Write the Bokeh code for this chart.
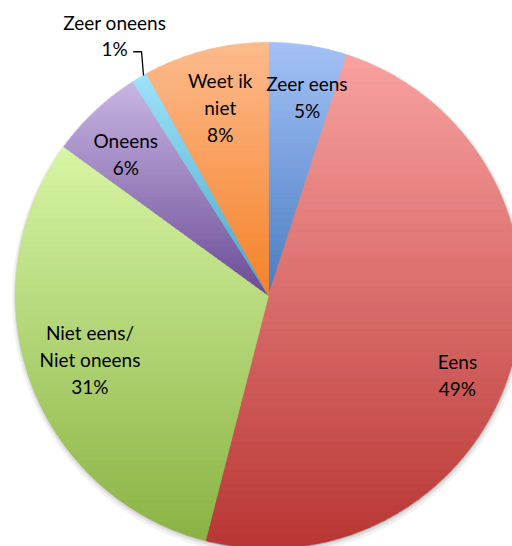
import numpy as np
from bokeh.plotting import figure
from bokeh.models import Range1d
from bokeh.embed import file_html
from bokeh.resources import INLINE
from bokeh.core.properties import value

# ---- data ----
labels = ["Zeer eens", "Eens", "Niet eens/\nNiet oneens", "Oneens", "Zeer oneens", "Weet ik\nniet"]
percents = [5, 49, 31, 6, 1, 8]
top_colors = ["#a4c2f8", "#f9a2a0", "#d8f5a6", "#c8b6e4", "#a0e2fb", "#fdbb8d"]
bottom_colors = ["#4a7cc0", "#b83634", "#8ab343", "#6c4c96", "#46a9c7", "#f58228"]

# ---- layout ----
W, H = 512, 546
R = 253.0
CX, CY = 268.0, 295.0
label_r = [0.80, 0.81, 0.75, 0.795, 1.194, 0.767]
label_da = [-2.0, -6.6, 0.0, 2.0, 0.0, 0.0]
FONT = "Lato"
FSIZE = 19
LINE_H = 1.17
SPACING = 26.5

p = figure(width=W, height=H, output_backend="svg", toolbar_location=None,
           x_range=Range1d(-CX, W - CX), y_range=Range1d(-(H - CY), CY),
           min_border=0)
p.axis.visible = False
p.grid.visible = False
p.outline_line_color = None
p.background_fill_color = "white"


def hex2rgb(h):
    h = h.lstrip("#")
    return np.array([int(h[i:i + 2], 16) for i in (0, 2, 4)], dtype=float)


def rgb2hex(c):
    c = np.clip(np.round(c), 0, 255).astype(int)
    return "#%02x%02x%02x" % tuple(c)


def clip(poly, y0, keep_above):
    out = []
    n = len(poly)
    for i in range(n):
        a = poly[i]
        b = poly[(i + 1) % n]
        ina = (a[1] >= y0) if keep_above else (a[1] <= y0)
        inb = (b[1] >= y0) if keep_above else (b[1] <= y0)
        if ina:
            out.append(a)
        if ina != inb:
            t = (y0 - a[1]) / (b[1] - a[1])
            out.append((a[0] + t * (b[0] - a[0]), y0))
    return out


# soft shadow
for rr, al, off in [(R + 4, 0.05, 3), (R + 2, 0.08, 2), (R + 0.5, 0.12, 1)]:
    p.circle(x=[0.5], y=[-off], radius=rr, fill_color="#000000", fill_alpha=al, line_color=None)

xs, ys, cols = [], [], []
cum = 0.0
mids = []
for pct, tc, bc in zip(percents, top_colors, bottom_colors):
    a0 = 90.0 - 3.6 * cum
    a1 = a0 - 3.6 * pct
    cum += pct
    mids.append((a0 + a1) / 2)
    n = max(6, int(abs(a1 - a0) * 2))
    ang = np.radians(np.linspace(a0, a1, n))
    poly = [(0.0, 0.0)] + [(R * np.cos(t), R * np.sin(t)) for t in ang]
    ymax = max(pt[1] for pt in poly)
    ymin = max(min(pt[1] for pt in poly), -R)
    nb = 70
    edges = np.linspace(ymax, ymin, nb + 1)
    ct, cb = hex2rgb(tc), hex2rgb(bc)
    for i in range(nb):
        yt, yb = edges[i], edges[i + 1]
        band = clip(clip(poly, yb - 0.3, True), yt + 0.3, False)
        if len(band) < 3:
            continue
        t = (i + 0.5) / nb
        xs.append([q[0] for q in band])
        ys.append([q[1] for q in band])
        cols.append(rgb2hex(ct + (cb - ct) * t))

p.patches(xs=xs, ys=ys, fill_color=cols, line_color=cols, line_width=0.6)

# labels
lx, ly, lt = [], [], []
for lab, pct, m, rf, da in zip(labels, percents, mids, label_r, label_da):
    a = np.radians(m + da)
    lx.append(R * rf * np.cos(a))
    ly.append(R * rf * np.sin(a))
    lt.append(f"{lab}\n{pct}%")

p.text(x=lx, y=ly, text=lt, text_align="center", text_baseline="middle",
       text_font=value(FONT), text_font_size=f"{FSIZE}px", text_line_height=LINE_H,
       text_color="#000000")

# leader line for the small slice (outside label)
k = 4
sy = ly[k] - SPACING / 2 - 3
sx = lx[k] + 18.5
ea = np.radians(mids[k] - 1.0)
ex, ey = R * np.cos(ea), R * np.sin(ea)
p.line(x=[sx, ex - 2, ex], y=[sy, sy, ey], line_color="#000000", line_width=1.3)

open("out.html", "w").write(file_html(p, INLINE))
